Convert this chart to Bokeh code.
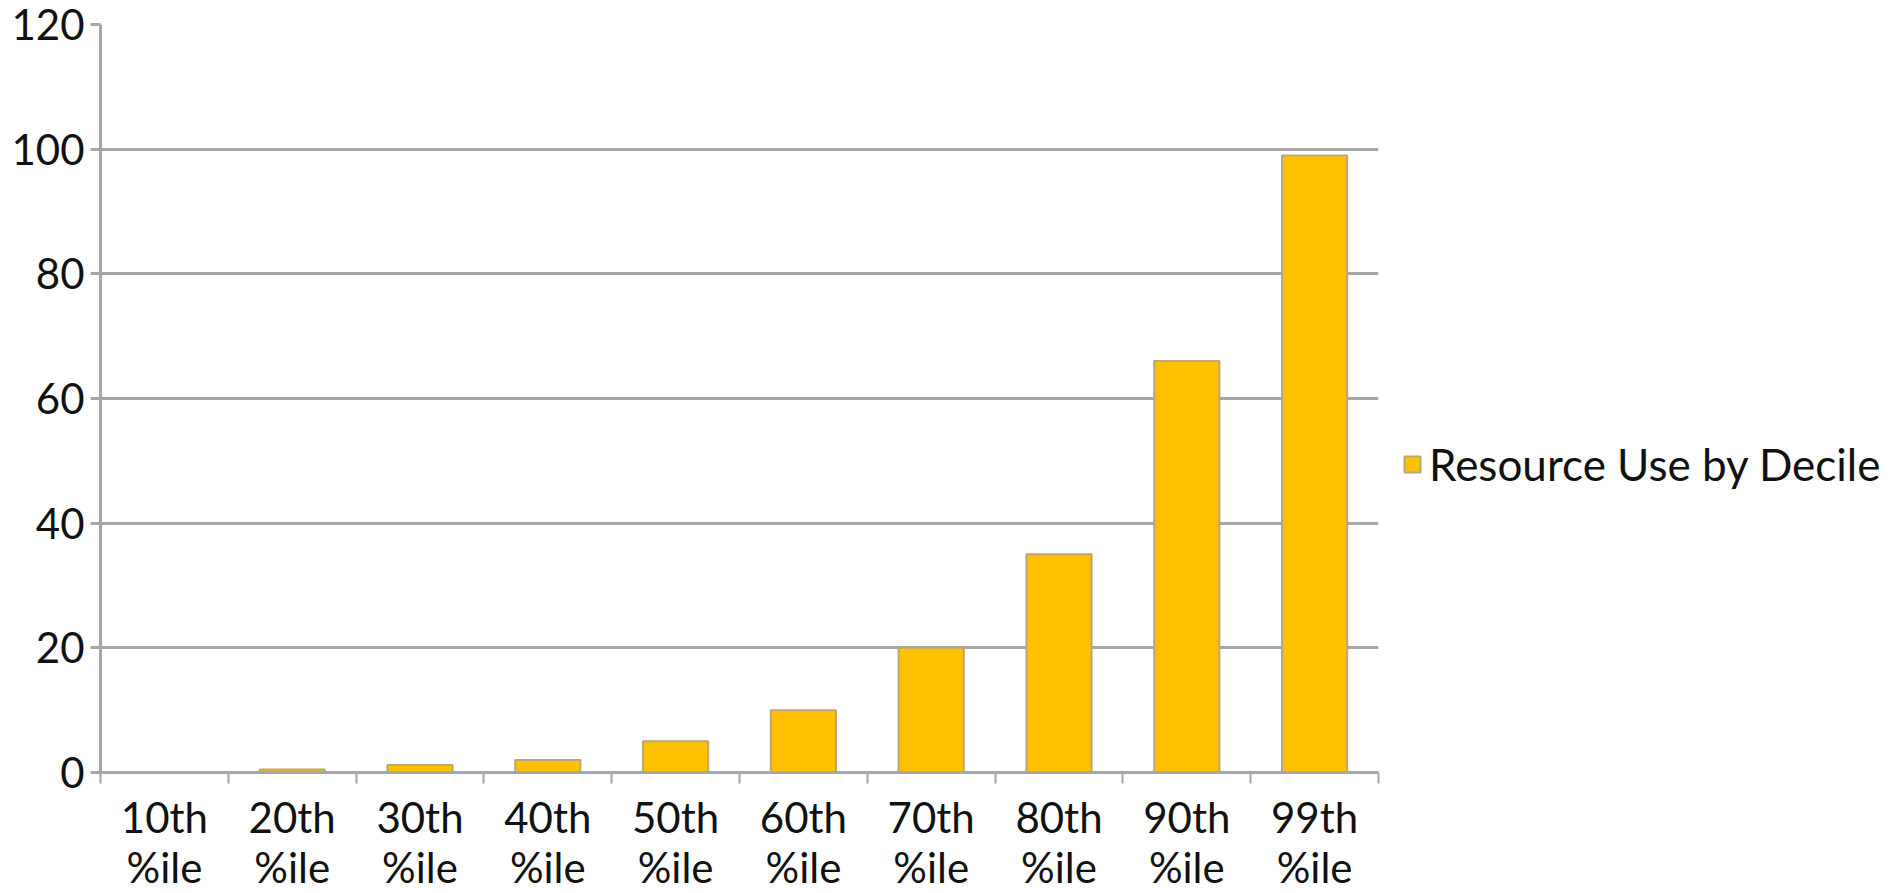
from bokeh.plotting import figure
from bokeh.models import Range1d, FixedTicker, Legend, LegendItem, ColumnDataSource
from bokeh.embed import file_html
from bokeh.resources import INLINE

# Resource use per percentile group
deciles = ["10th\n%ile", "20th\n%ile", "30th\n%ile", "40th\n%ile", "50th\n%ile",
           "60th\n%ile", "70th\n%ile", "80th\n%ile", "90th\n%ile", "99th\n%ile"]
resource_use = [0.1, 0.5, 1.2, 2, 5, 10, 20, 35, 66, 99]
y_ticks = [0, 20, 40, 60, 80, 100, 120]
series_name = "Resource Use by Decile"

FONT = "Lato"
FONT_SIZE = "42px"
GRID = "#a6a6a6"
TEXT = "#111111"

n = len(deciles)
centers = [i + 0.5 for i in range(n)]
src = ColumnDataSource(dict(x=centers, top=resource_use))

p = figure(frame_width=1278, frame_height=748,
           x_range=Range1d(0, n), y_range=Range1d(0, 120),
           output_backend="svg", toolbar_location=None,
           min_border_left=100, min_border_right=0, min_border_top=24, min_border_bottom=0)
p.outline_line_color = None
p.background_fill_color = "white"

bars = p.vbar(x="x", top="top", width=0.51, source=src,
              fill_color="#ffc000", line_color="#b9a677", line_width=2)

# y axis
p.yaxis.ticker = FixedTicker(ticks=y_ticks)
p.yaxis.axis_line_color = GRID
p.yaxis.axis_line_width = 3
p.yaxis.major_tick_line_color = GRID
p.yaxis.major_tick_line_width = 3
p.yaxis.major_tick_out = 10
p.yaxis.major_tick_in = 0
p.yaxis.minor_tick_line_color = None
p.yaxis.major_label_standoff = 6
p.yaxis.major_label_text_font = FONT
p.yaxis.major_label_text_font_size = FONT_SIZE
p.yaxis.major_label_text_color = TEXT

# x axis: labels at category centres, tick marks on the boundaries
p.xaxis.ticker = FixedTicker(ticks=centers, minor_ticks=list(range(n + 1)))
p.xaxis.major_label_overrides = {c: lab for c, lab in zip(centers, deciles)}
p.xaxis.axis_line_color = GRID
p.xaxis.axis_line_width = 3
p.xaxis.major_tick_line_color = None
p.xaxis.minor_tick_line_color = GRID
p.xaxis.minor_tick_line_width = 2
p.xaxis.minor_tick_out = 11
p.xaxis.minor_tick_in = 0
p.xaxis.major_label_standoff = 8
p.xaxis.major_label_text_line_height = 1.0
p.xaxis.major_label_text_font = FONT
p.xaxis.major_label_text_font_size = FONT_SIZE
p.xaxis.major_label_text_color = TEXT

p.xgrid.grid_line_color = None
p.ygrid.ticker = FixedTicker(ticks=y_ticks)
p.ygrid.grid_line_color = GRID
p.ygrid.grid_line_width = 3

legend = Legend(items=[LegendItem(label=series_name, renderers=[bars])],
                location=(24, 282), orientation="vertical",
                border_line_color=None, background_fill_alpha=0,
                padding=0, margin=0, spacing=0,
                glyph_width=20, glyph_height=20, label_standoff=7,
                label_text_font=FONT, label_text_font_size="44px",
                label_text_color=TEXT)
p.add_layout(legend, "right")

open("out.html", "w").write(file_html(p, INLINE))
